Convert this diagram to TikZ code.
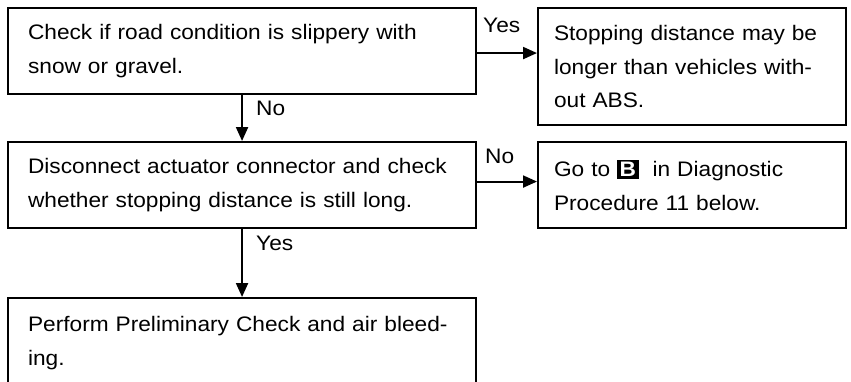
\documentclass[tikz,border=0pt]{standalone}
\usepackage{fontspec}
\setmainfont{Liberation Sans}[FakeStretch=1.08]
\usetikzlibrary{arrows.meta}
\newcommand{\stepkey}[1]{{\setlength{\fboxsep}{2.5pt}\colorbox{black}{\textcolor{white}{\bfseries #1}}}}
\begin{document}
\begin{tikzpicture}[x=1pt,y=-1pt,
  font=\fontsize{21}{33.5}\selectfont,
  flowbox/.style={draw=black, line width=2.1pt, anchor=north west, align=left,
    inner xsep=20pt, inner ysep=0pt},
  flowarrow/.style={line width=2.1pt, -{Triangle[length=14pt,width=12pt]}},
  answer/.style={anchor=base west, inner sep=0pt}]
  \useasboundingbox (0,0) rectangle (851,381);
  \clip (0,0) rectangle (851,381);

  % decision and action boxes
  \node[flowbox, minimum width=468pt, minimum height=86pt, text width=428pt]
    (check) at (7,7) {Check if road condition is slippery with\\snow or gravel.};
  \node[flowbox, minimum width=308pt, minimum height=117pt, text width=276pt, inner xsep=16pt]
    (longer) at (537,7) {Stopping distance may be\\longer than vehicles with-\\out ABS.};
  \node[flowbox, minimum width=468pt, minimum height=86pt, text width=428pt]
    (disconnect) at (7,141) {Disconnect actuator connector and check\\whether stopping distance is still long.};
  \node[flowbox, minimum width=308pt, minimum height=86pt, text width=276pt, inner xsep=16pt]
    (goto) at (537,141) {Go to \stepkey{B}\ \ in Diagnostic\\Procedure 11 below.};
  \node[flowbox, minimum width=468pt, minimum height=90pt, text width=428pt, inner xsep=18pt]
    (perform) at (7,297) {Perform Preliminary Check and air bleed-\\ing.};

  % connectors
  \draw[flowarrow] ([yshift=-2pt]check.east) -- ([yshift=-2pt]check.east -| longer.west);
  \draw[flowarrow] (check.south) -- (check.south |- disconnect.north);
  \draw[flowarrow] ([yshift=3.5pt]disconnect.east) -- ([yshift=3.5pt]disconnect.east -| goto.west);
  \draw[flowarrow] (disconnect.south) -- (disconnect.south |- perform.north);

  % branch answers
  \node[answer] (yes1) at (483,32) {Yes};
  \node[answer] (no1) at (256,115) {No};
  \node[answer] (no2) at (485,163) {No};
  \node[answer] (yes2) at (256,250) {Yes};
\end{tikzpicture}
\end{document}
